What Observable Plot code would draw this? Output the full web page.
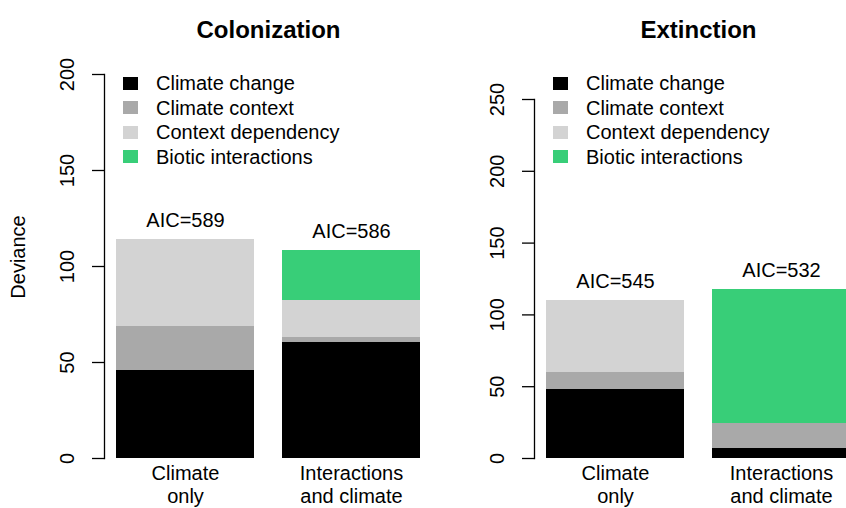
<!DOCTYPE html>
<html><head><meta charset="utf-8">
<script src="https://cdn.jsdelivr.net/npm/d3@7"></script>
<script src="https://cdn.jsdelivr.net/npm/@observablehq/plot@0.6"></script>
<style>
html,body{margin:0;padding:0;background:#fff;}
#wrap{position:relative;width:846px;height:508px;overflow:hidden;font-family:"Liberation Sans",Arial,sans-serif;}
.panel{position:absolute;top:0;}
.legend{position:absolute;top:0;left:0;font-size:20px;color:#000;}
.legend .sw{position:absolute;width:15px;height:13px;}
.legend .lab{position:absolute;line-height:24px;white-space:nowrap;}
</style></head><body><div id="wrap"></div>
<script>
const categories = ["Climate\nonly", "Interactions\nand climate"];
const components = ["Climate change", "Climate context", "Context dependency", "Biotic interactions"];
const colors = ["#000000", "#A9A9A9", "#D3D3D3", "#38CE78"];

// Colonization
const colClimateChange = [45.8, 60.4];
const colClimateContext = [23.1, 2.6];
const colContextDependency = [45.2, 19.3];
const colBiotic = [0, 26.0];
const colAIC = [589, 586];
const colTicks = [0, 50, 100, 150, 200];

// Extinction
const extClimateChange = [47.8, 7.0];
const extClimateContext = [11.9, 17.2];
const extContextDependency = [50.1, 0];
const extBiotic = [0, 93.3];
const extAIC = [545, 532];
const extTicks = [0, 50, 100, 150, 200, 250];

const FONT = '"Liberation Sans", Arial, sans-serif';

function panel({title, series, aic, ticks, marginTop, ylabel}) {
  const rows = [];
  categories.forEach((c, i) => {
    series.forEach((arr, j) => rows.push({cat: c, comp: components[j], value: arr[i]}));
  });
  const totals = categories.map((c, i) => ({cat: c, total: d3.sum(series, s => s[i]), label: "AIC=" + aic[i]}));
  const marks = [
    Plot.barY(rows, {x: "cat", y: "value", fill: "comp", shapeRendering: "crispEdges"}),
    Plot.frame({anchor: "left", strokeWidth: 1.3}),
    Plot.axisY({ticks, tickSize: 12, tickFormat: () => "", label: null, strokeWidth: 1.3}),
    Plot.text(ticks, {y: d => d, text: d => String(d), frameAnchor: "left", textAnchor: "middle", dx: -37, rotate: -90, fontSize: 20}),
    Plot.text(categories, {x: d => d, text: d => d, frameAnchor: "bottom", textAnchor: "middle", lineAnchor: "top", dy: 6, fontSize: 20, lineHeight: 1.12}),
    Plot.text(totals, {x: "cat", y: "total", text: "label", dy: -19, fontSize: 20}),
    Plot.text([title], {text: d => d, frameAnchor: "top", textAnchor: "middle", dy: 20 - marginTop, fontSize: 24, fontWeight: "bold"})
  ];
  if (ylabel) marks.push(Plot.text([ylabel], {text: d => d, frameAnchor: "left", textAnchor: "middle", dx: -86, dy: -9.5, rotate: -90, fontSize: 20}));
  return Plot.plot({
    width: 440, height: 508,
    marginLeft: 104, marginRight: 8, marginTop, marginBottom: 50,
    style: {fontFamily: FONT, fontSize: "20px", background: "transparent", overflow: "visible"},
    x: {domain: categories, paddingInner: 0.1687, paddingOuter: 0.0723, axis: null},
    y: {domain: [0, ticks[ticks.length - 1]], axis: null},
    color: {domain: components, range: colors},
    marks
  });
}

function legend(swLeft, textLeft) {
  const div = document.createElement("div");
  div.className = "legend";
  components.forEach((c, i) => {
    const cy = 83 + 24.5 * i;
    const sw = document.createElement("div");
    sw.className = "sw";
    sw.style.left = swLeft + "px";
    sw.style.top = (cy - 6.5) + "px";
    sw.style.background = colors[i];
    const lab = document.createElement("div");
    lab.className = "lab";
    lab.style.left = textLeft + "px";
    lab.style.top = (cy - 12) + "px";
    lab.textContent = c;
    div.append(sw, lab);
  });
  return div;
}

const wrap = document.getElementById("wrap");
const p1 = panel({title: "Colonization", series: [colClimateChange, colClimateContext, colContextDependency, colBiotic], aic: colAIC, ticks: colTicks, marginTop: 74, ylabel: "Deviance"});
p1.classList.add("panel"); p1.style.left = "0px";
const p2 = panel({title: "Extinction", series: [extClimateChange, extClimateContext, extContextDependency, extBiotic], aic: extAIC, ticks: extTicks, marginTop: 99});
p2.classList.add("panel"); p2.style.left = "430px";
wrap.append(p1, p2, legend(123, 156), legend(553, 586));
</script>
</body></html>
